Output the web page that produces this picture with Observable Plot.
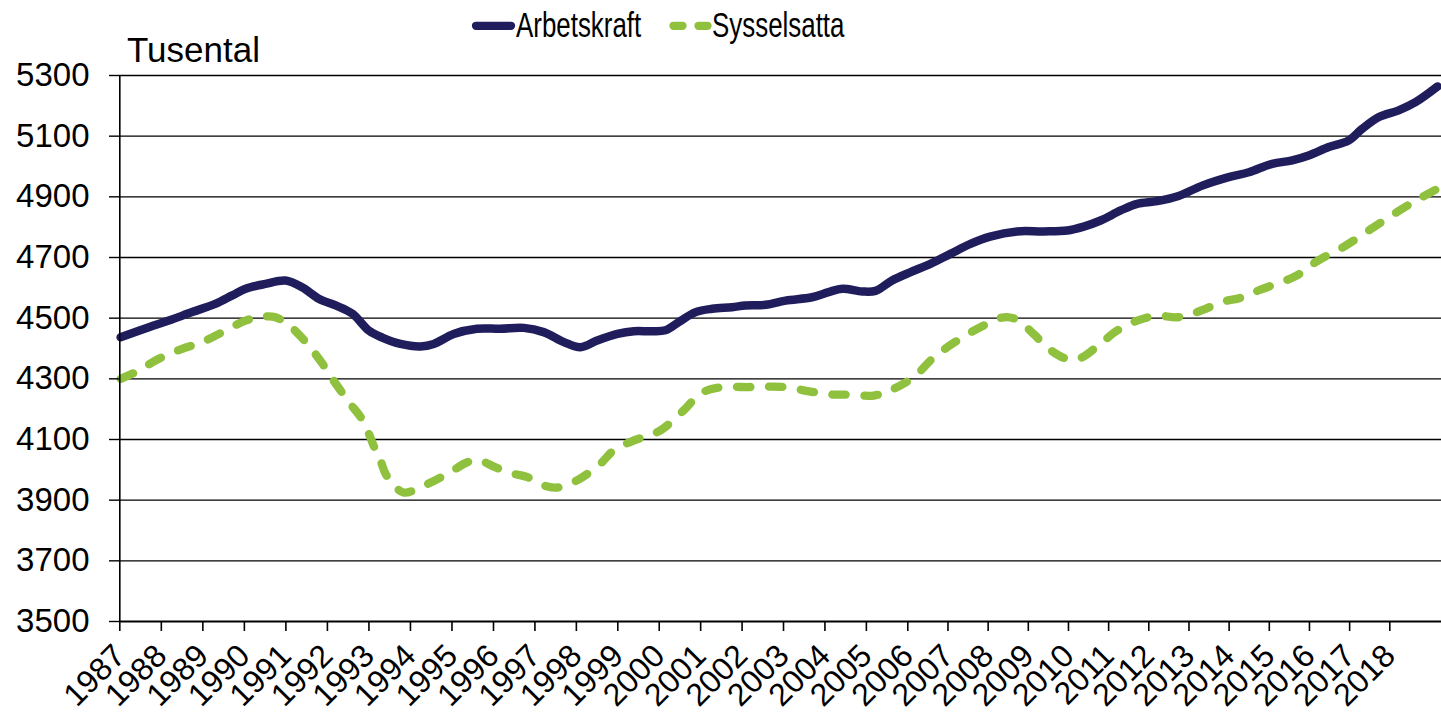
<!DOCTYPE html>
<html>
<head>
<meta charset="utf-8">
<script src="https://cdn.jsdelivr.net/npm/d3@7"></script>
<script src="https://cdn.jsdelivr.net/npm/@observablehq/plot@0.6"></script>
<style>
  body { margin: 0; background: #fff; font-family: "Liberation Sans", Arial, sans-serif; }
  #header { position: relative; width: 1441px; height: 60px; }
  #header .lbl { position: absolute; line-height: 1; white-space: nowrap; color: #000; }
  #header .leg { font-size: 35px; transform: scaleX(0.74); transform-origin: left center; }
  #chart svg { overflow: visible; display: block; }
</style>
</head>
<body>
<div id="header"></div>
<div id="chart"></div>
<script>
// ---- data ----
const seriesNames = ["Arbetskraft", "Sysselsatta"];
const unitLabel = "Tusental";

const arbYears = [1987.02, 1987.70, 1988.18, 1988.74, 1989.30, 1989.71, 1990.03, 1990.51, 1990.99, 1991.39,
  1991.79, 1992.20, 1992.60, 1993.00, 1993.32, 1993.76, 1994.24, 1994.56, 1995.04, 1995.60,
  1996.17, 1996.73, 1997.21, 1997.70, 1998.10, 1998.50, 1998.99, 1999.39, 1999.79, 2000.15,
  2000.47, 2000.88, 2001.28, 2001.76, 2002.08, 2002.57, 2003.05, 2003.69, 2004.09, 2004.42,
  2004.90, 2005.22, 2005.62, 2006.07, 2006.56, 2007.06, 2007.56, 2008.05, 2008.72, 2009.38,
  2009.97, 2010.38, 2010.80, 2011.30, 2011.71, 2012.21, 2012.74, 2013.33, 2013.99, 2014.49,
  2015.07, 2015.57, 2015.98, 2016.48, 2016.98, 2017.31, 2017.73, 2018.22, 2018.64, 2019.19];
const arbValues = [4437, 4470, 4492, 4520, 4547, 4575, 4597, 4613, 4624, 4602,
  4564, 4542, 4515, 4459, 4436, 4415, 4407, 4415, 4448, 4465,
  4465, 4468, 4454, 4421, 4404, 4426, 4448, 4457, 4457, 4460,
  4487, 4520, 4531, 4536, 4542, 4544, 4558, 4569, 4586, 4597,
  4588, 4590, 4624, 4652, 4679, 4712, 4745, 4769, 4786, 4786,
  4789, 4802, 4822, 4855, 4877, 4886, 4903, 4937, 4965, 4981,
  5009, 5020, 5036, 5064, 5086, 5124, 5163, 5185, 5212, 5264];

const sysYears = [1987.02, 1987.38, 1987.94, 1988.50, 1988.98, 1989.47, 1990.03, 1990.44, 1990.75, 1991.08,
  1991.48, 1991.88, 1992.20, 1992.52, 1992.85, 1993.16, 1993.28, 1993.40, 1993.61, 1993.84,
  1994.33, 1994.89, 1995.37, 1995.64, 1996.05, 1996.49, 1996.82, 1997.30, 1997.62, 1998.10,
  1998.58, 1998.90, 1999.39, 1999.63, 2000.03, 2000.59, 2000.99, 2001.39, 2002.20, 2003.00,
  2003.73, 2004.21, 2004.61, 2005.18, 2005.58, 2006.15, 2006.65, 2007.23, 2007.89, 2008.39,
  2008.72, 2009.13, 2009.55, 2009.96, 2010.29, 2010.79, 2011.21, 2011.71, 2012.21, 2012.71,
  2013.20, 2013.87, 2014.28, 2014.78, 2015.36, 2015.69, 2016.19, 2016.85, 2017.52, 2018.18,
  2018.68, 2019.18];
const sysValues = [4300, 4322, 4366, 4399, 4421, 4454, 4492, 4505, 4503, 4476,
  4421, 4350, 4284, 4223, 4163, 4064, 4030, 3987, 3948, 3925,
  3948, 3987, 4025, 4032, 4008, 3987, 3976, 3945, 3943, 3972,
  4020, 4064, 4097, 4108, 4130, 4196, 4251, 4270, 4273, 4273,
  4256, 4248, 4248, 4245, 4262, 4306, 4371, 4426, 4476, 4503,
  4495, 4448, 4395, 4366, 4368, 4415, 4459, 4492, 4508, 4503,
  4520, 4555, 4567, 4594, 4622, 4641, 4688, 4735, 4793, 4850,
  4890, 4926];

const yTicks = [3500, 3700, 3900, 4100, 4300, 4500, 4700, 4900, 5100, 5300];
const xTicks = d3.range(1987, 2019);

// ---- build tables ----
const navy = "#201d5c";
const green = "#8fc13e";
const arbData = arbYears.map((y, i) => ({year: y, value: arbValues[i]}));
const sysData = sysYears.map((y, i) => ({year: y, value: sysValues[i]}));

// ---- header: legend + unit label ----
const header = document.getElementById("header");
const sw = d3.select(header).append("svg")
  .attr("width", 1441).attr("height", 60)
  .style("position", "absolute").style("left", 0).style("top", 0);
sw.append("line").attr("x1", 476).attr("x2", 511).attr("y1", 25.8).attr("y2", 25.8)
  .attr("stroke", navy).attr("stroke-width", 8.3).attr("stroke-linecap", "round");
sw.append("line").attr("x1", 673.5).attr("x2", 707.5).attr("y1", 25.8).attr("y2", 25.8)
  .attr("stroke", green).attr("stroke-width", 8.3).attr("stroke-linecap", "round")
  .attr("stroke-dasharray", "9,16");

function addLabel(text, left, top, cls) {
  const s = document.createElement("span");
  s.className = "lbl " + (cls || "");
  s.textContent = text;
  s.style.left = left + "px";
  s.style.top = top + "px";
  header.appendChild(s);
  return s;
}
addLabel(seriesNames[0], 516, 7.4, "leg");
addLabel(seriesNames[1], 712, 7.4, "leg");
const tl = addLabel(unitLabel, 127, 32.4);
tl.style.fontSize = "35px";

// ---- chart ----
const chart = Plot.plot({
  width: 1441,
  height: 656,
  marginTop: 15,
  marginBottom: 95,
  marginLeft: 119,
  marginRight: 0,
  style: {fontFamily: "'Liberation Sans', Arial, sans-serif", background: "transparent", color: "#000", overflow: "visible"},
  x: {type: "linear", domain: [1987, 1996, 2006, 2018, 2019.2], range: [119.3, 493, 907.3, 1389.3, 1437.5]},
  y: {domain: [3500, 5300]},
  marks: [
    Plot.ruleY(yTicks.slice(1), {stroke: "#000", strokeWidth: 1.4}),
    Plot.line(sysData, {x: "year", y: "value", stroke: green, strokeWidth: 8.3, curve: "catmull-rom",
      strokeLinecap: "round", strokeLinejoin: "round", strokeDasharray: "13.5,18.5"}),
    Plot.line(arbData, {x: "year", y: "value", stroke: navy, strokeWidth: 8.5, curve: "catmull-rom",
      strokeLinecap: "round", strokeLinejoin: "round"}),
    Plot.ruleY([3500], {stroke: "#000", strokeWidth: 2}),
    Plot.ruleX([1987], {stroke: "#000", strokeWidth: 1.6}),
    Plot.axisY({ticks: yTicks, tickSize: 10, tickPadding: 20, fontSize: 33, label: null,
      tickFormat: d => String(d), stroke: "#000", strokeWidth: 1.4}),
    Plot.axisX({ticks: xTicks, tickSize: 10, tickPadding: 19, tickRotate: -45, fontSize: 32, label: null,
      tickFormat: d => String(d), stroke: "#000", strokeWidth: 1.6})
  ]
});
document.getElementById("chart").appendChild(chart);
</script>
</body>
</html>
